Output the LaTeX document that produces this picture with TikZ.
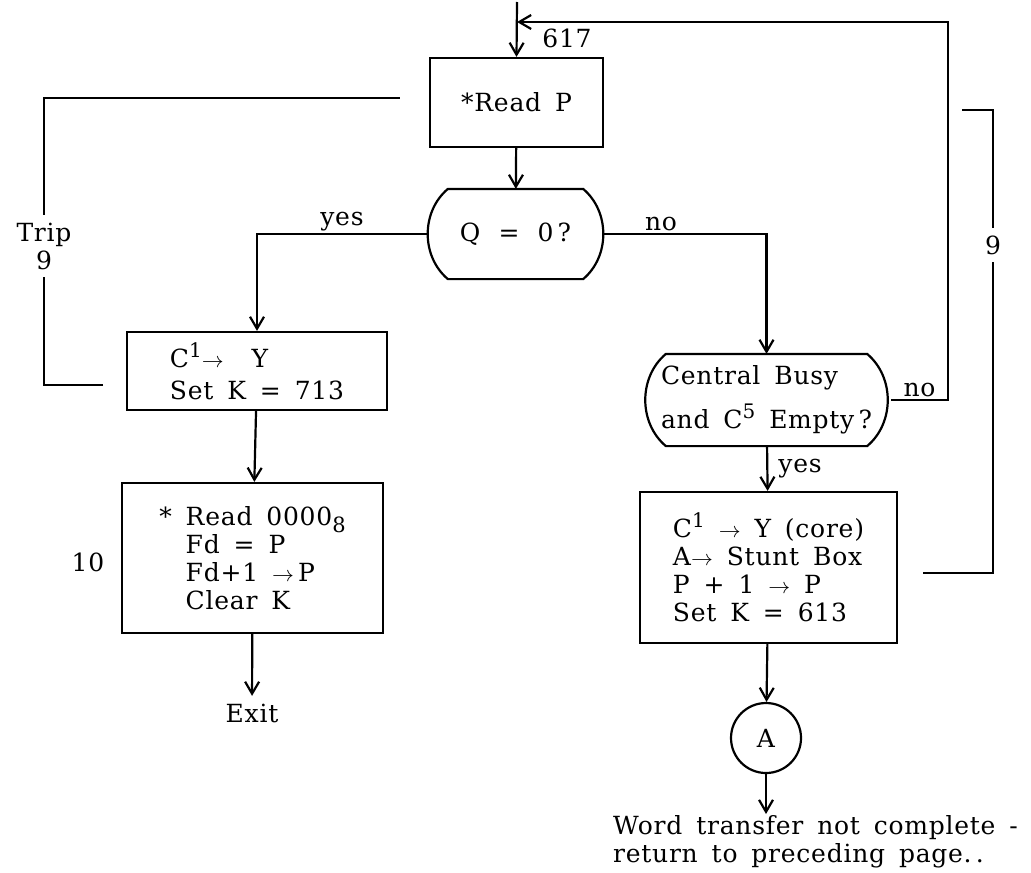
\documentclass[tikz,border=0pt]{standalone}
\usepackage{fontspec}
\setmainfont[LetterSpace=3,WordSpace=1.6]{DejaVu Serif}
\usetikzlibrary{arrows.meta,positioning,calc}

\newcommand{\sarr}{{\fontsize{11}{11}\selectfont$\rightarrow$}}
\newcommand{\upnum}[1]{\raisebox{0.75ex}{\fontsize{10}{10}\selectfont #1}}
\newcommand{\downnum}[1]{\raisebox{-0.55ex}{\fontsize{10.5}{10}\selectfont #1}}
% outline of a decision node: flat top and bottom, bulging sides
\newcommand{\decoutline}[2]{%
  \draw ($(#1.north west)+(#2,0)$) -- ($(#1.north east)+(-#2,0)$)
    to[bend left=50] ($(#1.south east)+(-#2,0)$) -- ($(#1.south west)+(#2,0)$)
    to[bend left=50] ($(#1.north west)+(#2,0)$) -- cycle;}

\begin{document}
\begin{tikzpicture}[x=0.5pt, y=-0.5pt,
    font=\fontsize{12.5}{14}\selectfont,
    line width=1.1pt,
    box/.style={draw, align=left, inner sep=0pt},
    dec/.style={align=left, inner sep=0pt},
    arr/.style={-{Straight Barb[length=6pt,width=7pt]}},
    lbl/.style={inner sep=1pt}
]
\useasboundingbox (0,0) rectangle (1031,872);

% main column
\node[box, minimum width=86.5pt, minimum height=44.5pt] (readp) at (516.5,102.5) {*Read P};
\node[dec, minimum width=87.5pt, minimum height=44pt] (q) at (515.5,234) {Q \,=\, 0\,?};
\decoutline{q}{21}

% left branch
\node[box, minimum width=130pt, minimum height=39pt] (cy) at (257,371)
  {C\upnum{1}\sarr\ \ Y\\[2pt]Set K = 713};
\node[box, minimum width=130.5pt, minimum height=75pt] (rd) at (252.5,558)
  {* Read 0000\downnum{8}\\\phantom{* }Fd = P\\\phantom{* }Fd+1 \sarr\,P\\\phantom{* }Clear K};
\node (exit) at (252,713) {Exit};
\node (ten) at (88,562) {10};

% right branch
\node[dec, minimum width=123.5pt, minimum height=45pt] (cb) at (766.5,400)
  {Central Busy\\[6pt]and C\upnum{5} Empty\,?};
\decoutline{cb}{24}
\node[box, minimum width=128.5pt, minimum height=75.5pt] (st) at (768.5,567.5)
  {C\upnum{1} \sarr\ Y (core)\\A\sarr\ Stunt Box\\P + 1 \sarr\ P\\Set K = 613};
\node[circle, draw, minimum size=35pt, inner sep=0pt] (ca) at (766,738) {A};
\node[align=left, anchor=north west, inner sep=0pt] (note) at (612,814)
  {Word transfer not complete -\\return to preceding page.\,.};

% side labels
\node (n617) at (567,38) {617};
\node[align=center] (trip) at (44,246) {Trip\\[0pt]9};
\node (nine) at (993,245) {9};

\coordinate (top) at (517,2);
\coordinate (join) at (517,22);
\coordinate (ret) at (948,22);
\coordinate (tripA) at (103,385);
\coordinate (tripB) at (400,98);
\coordinate (nineA) at (923,573);
\coordinate (nineB) at (962,110);

\draw[arr] (top) -- (readp.north);
\draw[arr] (cb.east) -- node[above, lbl] {no} (cb.east -| ret) -- (ret) -- (join);
\draw[arr] (readp) -- (q);
\draw[arr] (q.west) -- node[above, lbl] {yes} (q.west -| cy.north) -- (cy.north);
\draw[arr] (q.east) -- node[above, lbl, pos=0.35] {no} (q.east -| cb.north) -- (cb.north);
\draw[arr] (cb) -- node[right, lbl, xshift=4pt] {yes} (st);
\draw[arr] (cy) -- (rd);
\draw[arr] (rd) -- (exit);
\draw[arr] (st) -- (ca);
\draw[arr] (ca.south) -- (ca.south |- note.north);

% trip loops
\draw (tripA) -| (trip.south);
\draw (trip.north) |- (tripB);
\draw (nineA) -| (nine.south);
\draw (nine.north) |- (nineB);
\end{tikzpicture}
\end{document}
